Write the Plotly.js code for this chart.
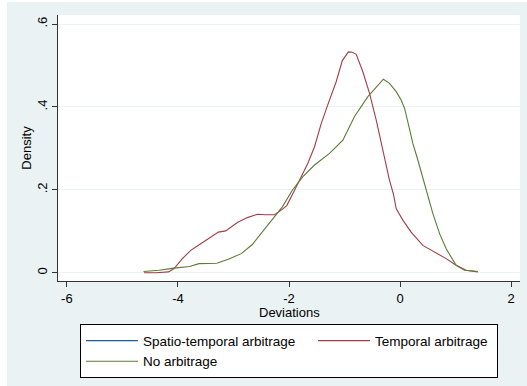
<!DOCTYPE html>
<html>
<head>
<meta charset="utf-8">
<script src="https://cdn.plot.ly/plotly-3.0.1.min.js"></script>
<style>
html,body{margin:0;padding:0;background:#ffffff;width:527px;height:386px;overflow:hidden;}
#chart{position:absolute;left:7px;top:2px;width:520px;height:384px;}
</style>
</head>
<body>
<div id="chart"></div>
<script>
// Series names
var seriesNames = ["Spatio-temporal arbitrage", "Temporal arbitrage", "No arbitrage"];
var xTitle = "Deviations";
var yTitle = "Density";

// Spatio-temporal arbitrage: no visible curve in the reference (legend only)
var spatioX = [null];
var spatioY = [null];

// Temporal arbitrage (red)
var temporalX = [-4.61, -4.40, -4.17, -4.07, -3.92, -3.77, -3.59, -3.41, -3.27, -3.14, -2.93, -2.75, -2.57, -2.42, -2.26, -2.14, -2.04, -1.90, -1.81, -1.72, -1.66, -1.54, -1.42, -1.27, -1.15, -1.04, -0.93, -0.86, -0.79, -0.67, -0.55, -0.43, -0.31, -0.19, -0.12, -0.07, 0.05, 0.20, 0.41, 0.65, 0.83, 1.01, 1.19, 1.40];
var temporalY = [0.000, 0.000, 0.002, 0.010, 0.034, 0.054, 0.070, 0.086, 0.098, 0.101, 0.121, 0.133, 0.141, 0.140, 0.140, 0.151, 0.162, 0.199, 0.223, 0.248, 0.264, 0.304, 0.360, 0.417, 0.461, 0.512, 0.533, 0.532, 0.527, 0.485, 0.433, 0.369, 0.296, 0.223, 0.190, 0.155, 0.127, 0.098, 0.066, 0.048, 0.034, 0.018, 0.006, 0.002];

// No arbitrage (green)
var noArbX = [-4.62, -4.34, -4.07, -3.79, -3.62, -3.30, -3.08, -2.86, -2.66, -2.48, -2.30, -2.12, -1.94, -1.75, -1.54, -1.27, -1.03, -0.82, -0.58, -0.43, -0.30, -0.19, -0.07, 0.02, 0.08, 0.14, 0.23, 0.32, 0.41, 0.47, 0.59, 0.71, 0.83, 1.01, 1.16, 1.40];
var noArbY = [0.003, 0.006, 0.011, 0.015, 0.022, 0.023, 0.033, 0.046, 0.068, 0.098, 0.127, 0.159, 0.199, 0.232, 0.260, 0.288, 0.320, 0.377, 0.425, 0.449, 0.467, 0.457, 0.437, 0.417, 0.397, 0.364, 0.312, 0.272, 0.228, 0.199, 0.143, 0.095, 0.058, 0.018, 0.006, 0.003];

// Tick labels
var yTickVals = [0, 0.2, 0.4, 0.6];
var yTickText = ["0", ".2", ".4", ".6"];
var xTickVals = [-6, -4, -2, 0, 2];
var xTickText = ["-6", "-4", "-2", "0", "2"];

var font = "Liberation Sans, Arial, sans-serif";
var colors = ["#1f5a95", "#a23d48", "#5b7b35"];

var traces = [
  {x: spatioX, y: spatioY, name: seriesNames[0], type: "scatter", mode: "lines",
   line: {color: colors[0], width: 1.2}, legendwidth: 165},
  {x: temporalX, y: temporalY, name: seriesNames[1], type: "scatter", mode: "lines",
   line: {color: colors[1], width: 1.1}, legendwidth: 117},
  {x: noArbX, y: noArbY, name: seriesNames[2], type: "scatter", mode: "lines",
   line: {color: colors[2], width: 1.1}}
];

var layout = {
  width: 520, height: 384,
  margin: {l: 51, r: 7, t: 13, b: 105},
  paper_bgcolor: "#eaf2f3",
  plot_bgcolor: "#ffffff",
  font: {family: font, size: 13, color: "#000000"},
  showlegend: true,
  xaxis: {
    range: [-6.16, 2.16],
    tickvals: xTickVals, ticktext: xTickText,
    ticks: "outside", ticklen: 5, tickcolor: "#333333", tickwidth: 1,
    showline: true, linecolor: "#333333", linewidth: 1.3,
    showgrid: false, zeroline: false,
    tickfont: {family: font, size: 13, color: "#000000"}
  },
  yaxis: {
    range: [-0.020, 0.622],
    tickvals: yTickVals, ticktext: yTickText,
    tickangle: -90,
    ticks: "outside", ticklen: 5, tickcolor: "#333333", tickwidth: 1,
    showline: true, linecolor: "#333333", linewidth: 1.3,
    showgrid: true, gridcolor: "#eaf2f3", gridwidth: 1,
    zeroline: false,
    tickfont: {family: font, size: 13, color: "#000000"},
    title: {text: yTitle, font: {family: font, size: 13, color: "#000000"}, standoff: 0}
  },
  annotations: [{
    text: xTitle, xref: "paper", yref: "paper", x: 0.5, y: -0.117,
    xanchor: "center", yanchor: "middle", showarrow: false,
    font: {family: font, size: 13, color: "#000000"}
  }],
  legend: {
    orientation: "h",
    x: 0.0476, xanchor: "left",
    y: -0.163, yanchor: "top",
    bgcolor: "#ffffff", bordercolor: "#000000", borderwidth: 1,
    font: {family: font, size: 13.5, color: "#000000"},
    itemwidth: 52,
    traceorder: "normal"
  }
};

Plotly.newPlot("chart", traces, layout, {displayModeBar: false, staticPlot: true});
</script>
</body>
</html>
